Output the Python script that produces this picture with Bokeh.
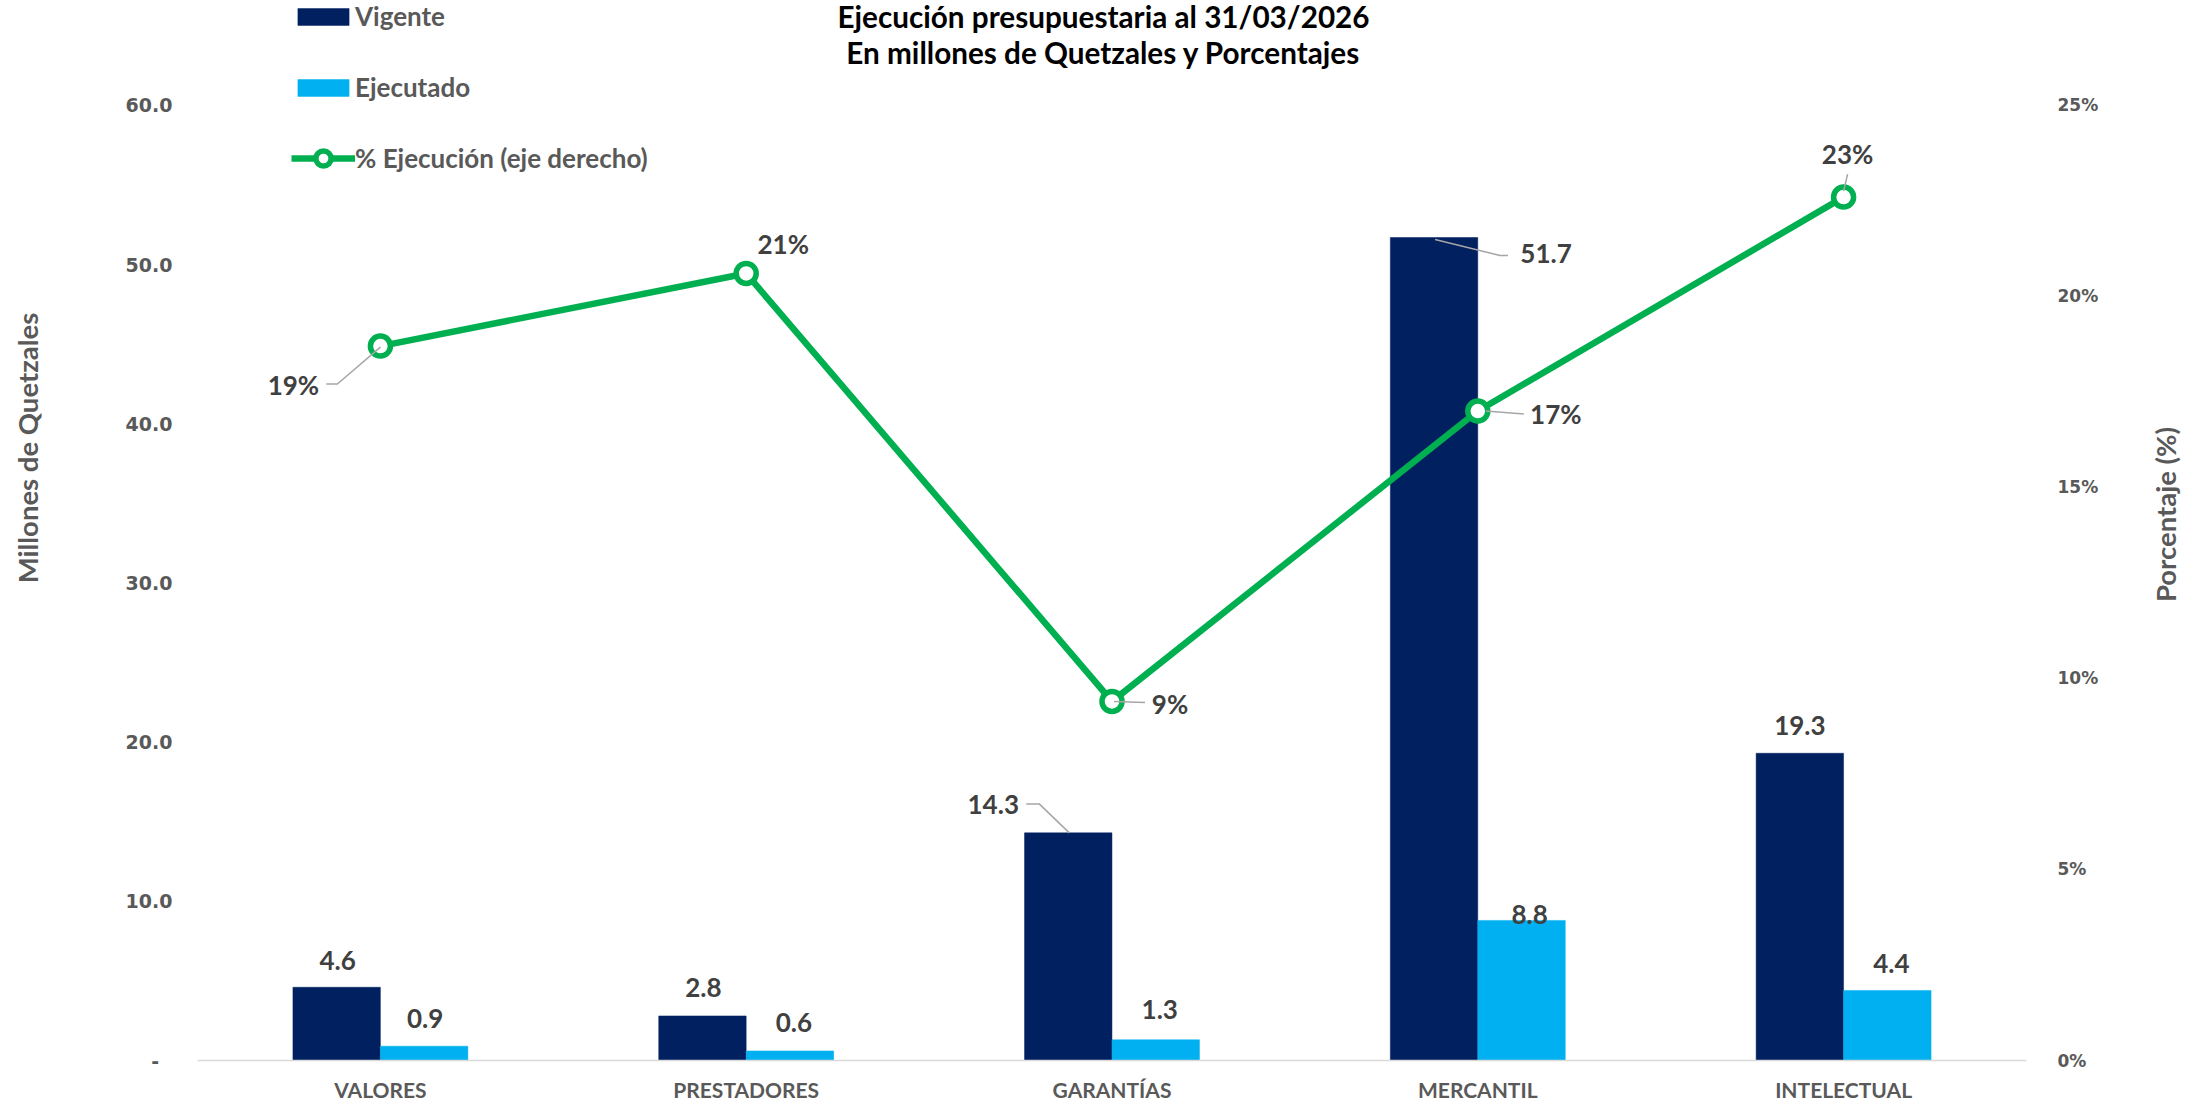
import math
from bokeh.plotting import figure
from bokeh.models import (Range1d, LinearAxis, FixedTicker, Legend, LegendItem, Label,
                          PrintfTickFormatter, ColumnDataSource)
from bokeh.embed import file_html
from bokeh.resources import INLINE
from bokeh.core.properties import value

# ---------------- data ----------------
categories = ["VALORES", "PRESTADORES", "GARANTÍAS", "MERCANTIL", "INTELECTUAL"]
vigente = [4.6, 2.8, 14.3, 51.7, 19.3]
ejecutado = [0.9, 0.6, 1.3, 8.8, 4.4]
pct_ejecucion = [18.7, 20.6, 9.4, 17.0, 22.6]
left_ticks = [0, 10, 20, 30, 40, 50, 60]
right_ticks = [0, 5, 10, 15, 20, 25]
left_max, right_max = 60, 25
title_lines = ["Ejecución presupuestaria al 31/03/2026", "En millones de Quetzales y Porcentajes"]

# ---------------- layout / style ----------------
W, H = 2206, 1104
B_LEFT, B_RIGHT, B_TOP, B_BOTTOM = 197, 180, 0, 43
FRAME_W = W - B_LEFT - B_RIGHT          # 1829
FRAME_H = H - B_TOP - B_BOTTOM          # 1061 (frame reaches the top of the canvas)
AXIS_PX = 956                           # pixel height of 0..60 / 0..25%
PX_X = 5.0 / FRAME_W
PX_YL = left_max / AXIS_PX
PX_YR = right_max / AXIS_PX
RIGHT_TITLE_START = 12                  # (pct units) where the right axis title begins

NAVY = "#002060"
CYAN = "#00B0F0"
GREEN = "#00B050"
GRAY_TXT = "#595959"
LABEL_TXT = "#404040"
LEADER = "#A6A6A6"
FONT = "Lato"

BAR_W = 0.239
BAR_OFF = 0.1196

# label offsets in px (x right, y down) relative to bar top / point
vig_lbl_off = [(1, -27), (1, -28), (-75, -28), (112, 16), (0, -28)]
eje_lbl_off = [(1, -28), (4, -28), (4, -30), (8, -6), (4, -27)]
pct_lbl_off = [(-87, 39), (37, -29), (58, 3), (78, 3), (4, -43)]
# leader lines: index -> list of px points relative to anchor
vig_leaders = {2: [(-42, -29), (-29, -29), (1, 0)], 3: [(1, 2), (66, 18), (74, 18)]}
pct_leaders = {0: [(0, 1), (-43, 38), (-54, 38)], 2: [(2, 0), (33, 1)],
               3: [(8, 0), (46, 3)], 4: [(0, -6), (4, -23)]}

idx = list(range(len(categories)))

p = figure(width=W, height=H, output_backend="svg", toolbar_location=None,
           x_range=Range1d(-0.5, len(categories) - 0.5),
           y_range=Range1d(0, left_max * FRAME_H / AXIS_PX),
           min_border_left=B_LEFT, min_border_right=B_RIGHT,
           min_border_top=B_TOP, min_border_bottom=B_BOTTOM,
           outline_line_color=None, background_fill_color="white",
           border_fill_color="white")
p.extra_y_ranges = {"pct": Range1d(0, right_max * FRAME_H / AXIS_PX)}
p.xgrid.visible = False
p.ygrid.visible = False

EM = "\u2003"
EN = "\u2002"
THIN = "\u2009"


def plain_axis(ax):
    ax.axis_line_color = None
    ax.major_tick_line_color = None
    ax.minor_tick_line_color = None
    ax.major_tick_out = 0
    ax.major_tick_in = 0
    ax.minor_tick_out = 0
    ax.minor_tick_in = 0


# axes
xa = p.xaxis[0]
plain_axis(xa)
xa.ticker = FixedTicker(ticks=idx)
xa.major_label_overrides = {i: c for i, c in zip(idx, categories)}
xa.axis_line_color = "#D9D9D9"
xa.axis_line_width = 1.5
xa.major_label_standoff = 16
xa.major_label_text_font = FONT
xa.major_label_text_font_style = "bold"
xa.major_label_text_font_size = "21px"
xa.major_label_text_color = GRAY_TXT

ya = p.yaxis[0]
plain_axis(ya)
ya.ticker = FixedTicker(ticks=left_ticks)
ya.formatter = PrintfTickFormatter(format="%.1f")
ya.major_label_overrides = {0: "-" + EN + THIN}
ya.major_label_standoff = 25
ya.major_label_text_font = "DejaVu Sans"
ya.major_label_text_font_style = "bold"
ya.major_label_text_font_size = "19px"
ya.major_label_text_color = GRAY_TXT
ya.axis_label = EM * 8 + "Millones de Quetzales"
ya.axis_label_standoff = 79
ya.axis_label_text_font = FONT
ya.axis_label_text_font_style = "bold"
ya.axis_label_text_font_size = "27.5px"
ya.axis_label_text_color = GRAY_TXT

ra = LinearAxis(y_range_name="pct", ticker=FixedTicker(ticks=right_ticks),
                formatter=PrintfTickFormatter(format="%d%%"))
plain_axis(ra)
ra.major_label_standoff = 31
ra.major_label_text_font = "DejaVu Sans"
ra.major_label_text_font_style = "bold"
ra.major_label_text_font_size = "17px"
ra.major_label_text_color = GRAY_TXT
p.add_layout(ra, "right")

# right axis title, set as the single (rotated) label of an outer right axis
rt = LinearAxis(y_range_name="pct", ticker=FixedTicker(ticks=[RIGHT_TITLE_START]),
                major_label_overrides={RIGHT_TITLE_START: "Porcentaje (%)"})
plain_axis(rt)
rt.major_label_orientation = math.pi / 2
rt.major_label_standoff = 64
rt.major_label_text_font = FONT
rt.major_label_text_font_style = "bold"
rt.major_label_text_font_size = "27.5px"
rt.major_label_text_color = GRAY_TXT
p.add_layout(rt, "right")

# bars
src = ColumnDataSource(dict(
    xv=[i - BAR_OFF for i in idx], xe=[i + BAR_OFF for i in idx],
    vig=vigente, eje=ejecutado))
r_vig = p.vbar(x="xv", top="vig", width=BAR_W, source=src, fill_color=NAVY,
               line_color=NAVY, line_width=0.5)
r_eje = p.vbar(x="xe", top="eje", width=BAR_W, source=src, fill_color=CYAN,
               line_color=CYAN, line_width=0.5)

# leader lines (bars)
lxs, lys = [], []
for i, pts in vig_leaders.items():
    lxs.append([idx[i] - BAR_OFF + dx * PX_X for dx, dy in pts])
    lys.append([vigente[i] - dy * PX_YL for dx, dy in pts])
p.multi_line(xs=lxs, ys=lys, line_color=LEADER, line_width=1.5)

# line series
r_line = p.line(idx, pct_ejecucion, y_range_name="pct", line_color=GREEN, line_width=6.5)

pxs, pys = [], []
for i, pts in pct_leaders.items():
    pxs.append([idx[i] + dx * PX_X for dx, dy in pts])
    pys.append([pct_ejecucion[i] - dy * PX_YR for dx, dy in pts])

r_pts = p.scatter(idx, pct_ejecucion, y_range_name="pct", size=20, line_width=5.5,
                  line_color=GREEN, fill_color="white")
p.multi_line(xs=pxs, ys=pys, line_color=LEADER, line_width=1.5, y_range_name="pct")

# data labels
lbl_common = dict(text_align="center", text_baseline="middle", text_font=value(FONT),
                  text_font_style="bold", text_font_size="26px", text_color=LABEL_TXT)
vsrc = ColumnDataSource(dict(x=[i - BAR_OFF for i in idx], y=vigente,
                             t=[f"{v:.1f}" for v in vigente],
                             dx=[o[0] for o in vig_lbl_off], dy=[o[1] for o in vig_lbl_off]))
p.text(x="x", y="y", text="t", x_offset="dx", y_offset="dy", source=vsrc, **lbl_common)
esrc = ColumnDataSource(dict(x=[i + BAR_OFF for i in idx], y=ejecutado,
                             t=[f"{v:.1f}" for v in ejecutado],
                             dx=[o[0] for o in eje_lbl_off], dy=[o[1] for o in eje_lbl_off]))
p.text(x="x", y="y", text="t", x_offset="dx", y_offset="dy", source=esrc, **lbl_common)
psrc = ColumnDataSource(dict(x=idx, y=pct_ejecucion,
                             t=[f"{v:.0f}%" for v in pct_ejecucion],
                             dx=[o[0] for o in pct_lbl_off], dy=[o[1] for o in pct_lbl_off]))
p.text(x="x", y="y", text="t", x_offset="dx", y_offset="dy", source=psrc,
       y_range_name="pct", **lbl_common)

# legends: bars (rows centred 17 and 88 px from the top), line (row centred at 159 px)
leg_style = dict(orientation="vertical", glyph_width=64, label_standoff=0, padding=0,
                 margin=0, border_line_color=None, background_fill_alpha=0,
                 label_text_font=FONT, label_text_font_style="bold",
                 label_text_font_size="26px", label_text_color=GRAY_TXT)
ROW_H, ROW_GAP = 32, 39
LEG1_TOP = 17 - ROW_H // 2
LEG1_H = 2 * ROW_H + ROW_GAP
legend1 = Legend(items=[LegendItem(label="Vigente", renderers=[r_vig]),
                        LegendItem(label="Ejecutado", renderers=[r_eje])],
                 location=(94, FRAME_H - LEG1_TOP - LEG1_H),
                 glyph_height=21, label_height=ROW_H, spacing=ROW_GAP, **leg_style)
p.add_layout(legend1)
ROW2_H = 38
LEG2_TOP = 159 - ROW2_H // 2
legend2 = Legend(items=[LegendItem(label="% Ejecución (eje derecho)", renderers=[r_line, r_pts])],
                 location=(94, FRAME_H - LEG2_TOP - ROW2_H),
                 glyph_height=ROW2_H, label_height=ROW2_H, spacing=0, **leg_style)
p.add_layout(legend2)

# title (inside the frame, which reaches the top of the canvas)
for k, line in enumerate(title_lines):
    p.add_layout(Label(x=W / 2 - B_LEFT, y=FRAME_H - 17 - 36 * k,
                       x_units="screen", y_units="screen", text=line,
                       text_align="center", text_baseline="middle", text_font=FONT,
                       text_font_style="bold", text_font_size="29.7px", text_color="black"))

open("out.html", "w").write(file_html(p, INLINE))
